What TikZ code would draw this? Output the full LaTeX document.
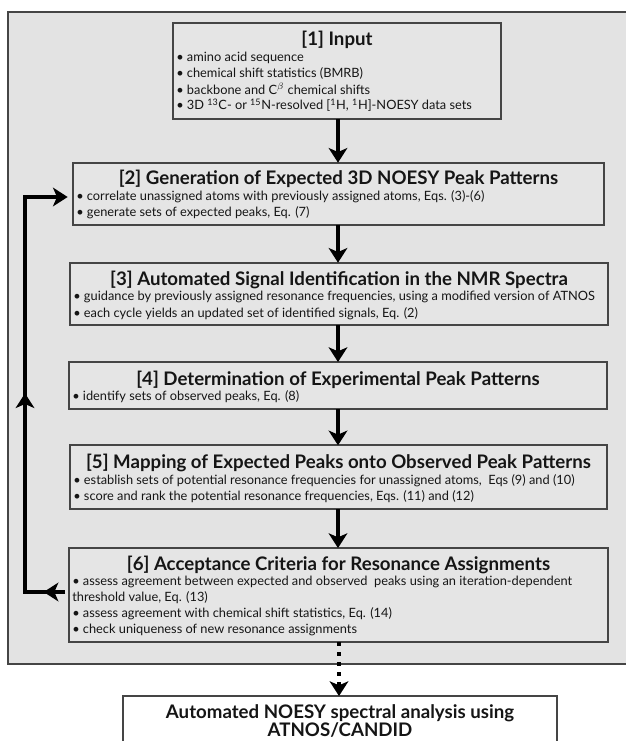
\documentclass[tikz,border=0pt]{standalone}
\usepackage{fontspec}
\setmainfont{Lato}
\usetikzlibrary{arrows.meta,fit,decorations.markings}
\definecolor{panelgray}{HTML}{E3E3E3}
\definecolor{boxgray}{HTML}{E5E5E5}
\definecolor{edgegray}{HTML}{454545}
\definecolor{inkc}{HTML}{151515}
\newcommand{\bulletmark}{\textbullet\ }
\tikzset{
  panelbox/.style={draw=edgegray, line width=1.5pt, fill=panelgray},
  stagebox/.style={draw=edgegray, line width=1.4pt, fill=boxgray, inner sep=0pt, outer sep=0pt},
  finalbox/.style={draw=edgegray, line width=1.4pt, fill=white, inner sep=0pt, outer sep=0pt},
  titletext/.style={font=\fontsize{14}{16}\selectfont\bfseries, text=inkc, inner sep=0pt, anchor=base},
  itemtext/.style={font=\fontsize{9.6}{11}\selectfont, text=inkc, inner sep=0pt, anchor=base west},
  bigtip/.style={-{Stealth[length=11pt,width=14pt,inset=3pt]}},
  flow/.style={line width=2.6pt, draw=black, bigtip},
  dotflow/.style={line width=3pt, draw=black, dash pattern=on 3pt off 4.5pt, bigtip},
  feedback/.style={line width=2.6pt, draw=black, bigtip, shorten <=3pt, shorten >=4pt,
    postaction={decorate, decoration={markings,
      mark=at position 19pt with {\arrow{Stealth[length=11pt,width=14pt,inset=3pt]}},
      mark=at position 182pt with {\arrow{Stealth[length=11pt,width=14pt,inset=3pt]}}}}},
}
\begin{document}
\begin{tikzpicture}[x=0.75pt,y=-0.75pt]
\useasboundingbox (0,0) rectangle (625,741);
% outer panel
\draw[panelbox] (7.5,12) rectangle (650,664);

% boxes
\node[stagebox, fit={(173,23) (501,119)}] (b1) {};
\node[stagebox, fit={(73,162.7) (604,224.7)}] (b2) {};
\node[stagebox, fit={(70,262.7) (608,325.3)}] (b3) {};
\node[stagebox, fit={(69,362) (607,409)}] (b4) {};
\node[stagebox, fit={(70,445.3) (607,509)}] (b5) {};
\node[stagebox, fit={(69,548) (608,642)}] (b6) {};
\node[finalbox, fit={(123,696) (557,760)}] (b7) {};

% box 1
\node[titletext] (t1) at (337,45.5) {[1] Input};
\node[itemtext] (i1a) at (176,61.5) {\bulletmark amino acid sequence};
\node[itemtext] (i1b) at (176,78) {\bulletmark chemical shift statistics (BMRB)};
\node[itemtext] (i1c) at (176,94.5) {\bulletmark backbone and C$^{\beta}$ chemical shifts};
\node[itemtext] (i1d) at (176,110) {\bulletmark 3D \textsuperscript{13}C- or \textsuperscript{15}N-resolved [\textsuperscript{1}H, \textsuperscript{1}H]-NOESY data sets};

% box 2
\node[titletext] (t2) at (338.5,185) {[2] Generation of Expected 3D NOESY Peak Patterns};
\node[itemtext] (i2a) at (76,200.7) {\bulletmark correlate unassigned atoms with previously assigned atoms, Eqs. (3)-(6)};
\node[itemtext] (i2b) at (76,216.7) {\bulletmark generate sets of expected peaks, Eq. (7)};

% box 3
\node[titletext] (t3) at (339,285) {[3] Automated Signal Identification in the NMR Spectra};
\node[itemtext] (i3a) at (73,300.5) {\bulletmark guidance by previously assigned resonance frequencies, using a modified version of ATNOS};
\node[itemtext] (i3b) at (73,317) {\bulletmark each cycle yields an updated set of identified signals, Eq. (2)};

% box 4
\node[titletext] (t4) at (338,385) {[4] Determination of Experimental Peak Patterns};
\node[itemtext] (i4a) at (72,400.7) {\bulletmark identify sets of observed peaks, Eq. (8)};

% box 5
\node[titletext] (t5) at (338.5,468.5) {[5] Mapping of Expected Peaks onto Observed Peak Patterns};
\node[itemtext] (i5a) at (73,484) {\bulletmark establish sets of potential resonance frequencies for unassigned atoms,\ \ Eqs (9) and (10)};
\node[itemtext] (i5b) at (73,500.7) {\bulletmark score and rank the potential resonance frequencies, Eqs. (11) and (12)};

% box 6
\node[titletext] (t6) at (338.5,570.5) {[6] Acceptance Criteria for Resonance Assignments};
\node[itemtext] (i6a) at (72,585) {\bulletmark assess agreement between expected and observed\ \ peaks using an iteration-dependent};
\node[itemtext] (i6b) at (72,601) {threshold value, Eq. (13)};
\node[itemtext] (i6c) at (72,617) {\bulletmark assess agreement with chemical shift statistics, Eq. (14)};
\node[itemtext] (i6d) at (72,633) {\bulletmark check uniqueness of new resonance assignments};

% final box
\node[titletext] (t7a) at (340,718) {Automated NOESY spectral analysis using};
\node[titletext] (t7b) at (340,736.5) {ATNOS/CANDID};

% main flow
\draw[flow] (b1.south -| 338,0) -- (338,0 |- b2.north);
\draw[flow] (b2.south -| 338,0) -- (338,0 |- b3.north);
\draw[flow] (b3.south -| 338,0) -- (338,0 |- b4.north);
\draw[flow] (b4.south -| 338,0) -- (338,0 |- b5.north);
\draw[flow] (b5.south -| 338,0) -- (338,0 |- b6.north);
\draw[dotflow] (b6.south -| 339,0) -- (339,0 |- b7.north);

% feedback loop
\coordinate (lc1) at (25,592);
\coordinate (lc2) at (25,197);
\draw[feedback] (b6.west |- lc1) -- (lc1) -- (lc2) -- (b2.west |- lc2);
\end{tikzpicture}
\end{document}
